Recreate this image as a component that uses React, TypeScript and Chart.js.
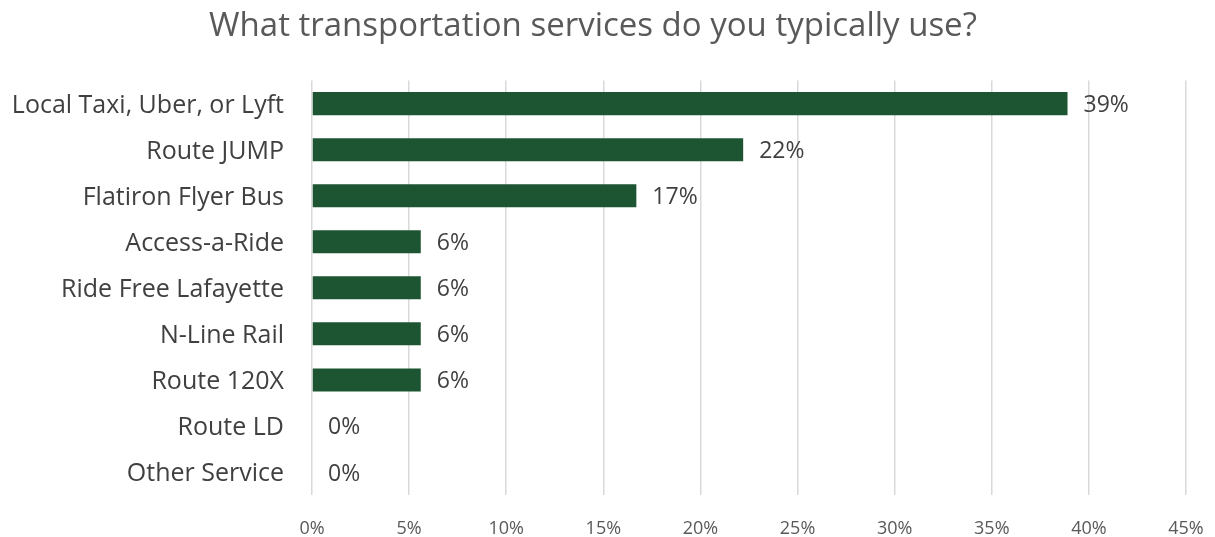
import React, { useEffect, useRef } from "react";
import { Chart, registerables } from "chart.js";

Chart.register(...registerables);

const categories = [
  "Local Taxi, Uber, or Lyft",
  "Route JUMP",
  "Flatiron Flyer Bus",
  "Access-a-Ride",
  "Ride Free Lafayette",
  "N-Line Rail",
  "Route 120X",
  "Route LD",
  "Other Service",
];
const shares = [38.9, 22.2, 16.7, 5.6, 5.6, 5.6, 5.6, 0, 0];
const xTicks = [0, 5, 10, 15, 20, 25, 30, 35, 40, 45];
const titleText = "What transportation services do you typically use?";

const FONT = "'Open Sans', 'Noto Sans', sans-serif";

const dataLabelPlugin = {
  id: "dataLabels",
  afterDatasetsDraw(chart: any) {
    const ctx = chart.ctx;
    const meta = chart.getDatasetMeta(0);
    ctx.save();
    ctx.font = `23px ${FONT}`;
    ctx.fillStyle = "#404040";
    ctx.textAlign = "left";
    ctx.textBaseline = "middle";
    meta.data.forEach((bar: any, i: number) => {
      const v = shares[i];
      ctx.fillText(`${Math.round(v)}%`, bar.x + 16, bar.y + 2);
    });
    ctx.restore();
  },
};

export default function App() {
  const ref = useRef<HTMLCanvasElement>(null);
  useEffect(() => {
    document.body.style.margin = "0";
    const chart = new Chart(ref.current!, {
      type: "bar",
      data: {
        labels: categories,
        datasets: [
          {
            data: shares,
            backgroundColor: "#1D5533",
            barPercentage: 0.5,
            categoryPercentage: 1,
          },
        ],
      },
      options: {
        indexAxis: "y",
        responsive: false,
        animation: false,
        layout: { padding: { left: 0, right: 29, top: 0, bottom: 0 } },
        plugins: {
          legend: { display: false },
          tooltip: { enabled: false },
          title: {
            display: true,
            text: titleText,
            color: "#595959",
            font: { family: FONT, size: 33, weight: "normal" },
            padding: { top: 7, bottom: 34 },
          },
        },
        scales: {
          x: {
            min: 0,
            max: 45,
            afterBuildTicks(scale: any) {
              scale.ticks = xTicks.map((v) => ({ value: v }));
            },
            afterFit(scale: any) {
              scale.height = 42;
              scale.paddingLeft = 0;
              scale.paddingRight = 0;
            },
            grid: { color: "#D9D9D9", lineWidth: 1.5, drawTicks: false },
            border: { display: false },
            ticks: {
              padding: 23,
              color: "#595959",
              font: { family: FONT, size: 18 },
              callback: (v: any) => `${v}%`,
            },
          },
          y: {
            afterFit(scale: any) {
              scale.width = 312;
              scale.paddingTop = 0;
              scale.paddingBottom = 0;
            },
            grid: { display: false, drawTicks: false },
            border: { display: false },
            ticks: {
              padding: 28,
              labelOffset: 2,
              color: "#404040",
              font: { family: FONT, size: 25 },
            },
          },
        },
      },
      plugins: [dataLabelPlugin],
    });
    return () => chart.destroy();
  }, []);
  return (
    <div style={{ width: 1215, height: 537 }}>
      <canvas ref={ref} width={1215} height={537} />
    </div>
  );
}
